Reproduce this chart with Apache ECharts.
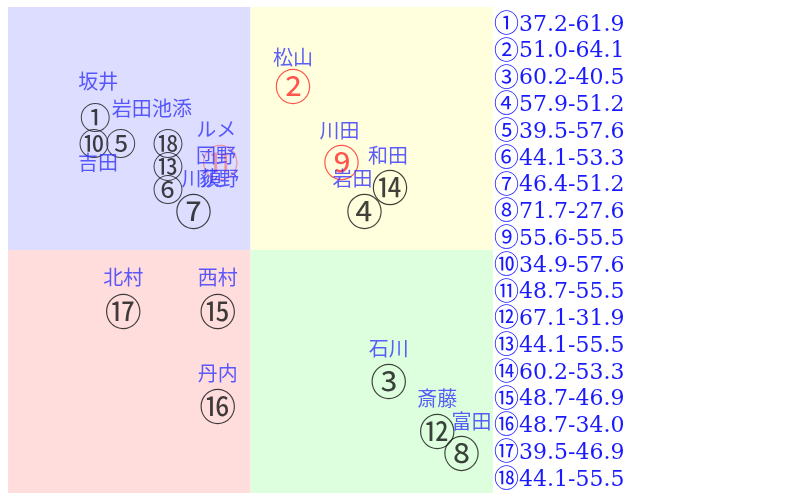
<!DOCTYPE html>
<html>
<head>
<meta charset="utf-8">
<script src="https://cdn.jsdelivr.net/npm/echarts@6/dist/echarts.min.js"></script>
<style>
  html, body { margin: 0; padding: 0; background: #fff; }
  #chart { width: 810px; height: 493px; }
</style>
</head>
<body>
<div id="chart"></div>
<script>
// 番号と名前
const marks = ['①', '②', '③', '④', '⑤', '⑥', '⑦', '⑧', '⑨', '⑩', '⑪', '⑫', '⑬', '⑭', '⑮', '⑯', '⑰', '⑱']
const names = ['坂井', '松山', '石川', '岩田', '岩田', '荻野', '川須', '富田', '川田', '吉田', 'ルメ', '斎藤', '団野', '和田', '西村', '丹内', '北村', '池添']
// 右の一覧の値
const scoreA = [37.2, 51.0, 60.2, 57.9, 39.5, 44.1, 46.4, 71.7, 55.6, 34.9, 48.7, 67.1, 44.1, 60.2, 48.7, 48.7, 39.5, 44.1]
const scoreB = [61.9, 64.1, 40.5, 51.2, 57.6, 53.3, 51.2, 27.6, 55.5, 57.6, 55.5, 31.9, 55.5, 53.3, 46.9, 34.0, 46.9, 55.5]
// 図の上の位置 (20x20 のマス目, y は上から)
const posX = [3.6, 11.75, 15.7, 14.7, 4.65, 6.6, 7.65, 18.7, 13.75, 3.55, 8.75, 17.7, 6.6, 15.75, 8.65, 8.65, 4.75, 6.6]
const posY = [4.55, 3.3, 15.45, 8.45, 5.6, 7.5, 8.45, 18.4, 6.4, 5.6, 6.4, 17.5, 6.55, 7.45, 12.55, 16.45, 12.55, 5.6]

// 見た目の設定 (データとは別)
const smallMarks = [0, 4, 5, 9, 12, 17]
const redMarks = { 1: '#ff2a2a', 8: '#ff2a2a', 10: 'rgba(255,70,70,0.6)' }
const nameShift = {
  0: [3, -36], 1: [0, -30], 2: [0, -34], 3: [-12, -34], 4: [11, -35], 5: [51, -11],
  6: [8, -34], 7: [10, -33], 8: [-2, -32], 9: [4, 19], 10: [-4, -33], 11: [0, -34],
  12: [48, -11], 13: [-2, -33], 14: [0, -35], 15: [0, -33], 16: [0, -35], 17: [4, -35]
}

const chart = echarts.init(document.getElementById('chart'))

const quad = [
  [[0, 0], [10, 10], '#ddddff'],
  [[10, 0], [20, 10], '#ffffdd'],
  [[0, 10], [10, 20], '#ffdddd'],
  [[10, 10], [20, 20], '#ddffdd'],
]

const option = {
  animation: false,
  grid: { left: 8, top: 7, width: 485, height: 486 },
  xAxis: { type: 'value', min: 0, max: 20, show: false },
  yAxis: { type: 'value', min: 0, max: 20, inverse: true, show: false },
  series: [
    {
      // 番号
      type: 'scatter',
      symbolSize: 1,
      itemStyle: { color: 'rgba(0,0,0,0)' },
      markArea: {
        silent: true,
        data: quad.map(q => [
          { coord: q[0], itemStyle: { color: q[2] } },
          { coord: q[1] },
        ]),
      },
      z: 2,
      data: posX.map((x, i) => ({
        value: [x, posY[i]],
        label: {
          show: true,
          position: 'inside',
          formatter: marks[i],
          color: redMarks[i] || '#111',
          fontSize: smallMarks.includes(i) ? 31 : 37,
          fontFamily: 'Noto Sans CJK JP',
        },
      })),
    },
    {
      // 名前
      type: 'scatter',
      symbolSize: 1,
      itemStyle: { color: 'rgba(0,0,0,0)' },
      z: 3,
      data: posX.map((x, i) => ({
        value: [x, posY[i]],
        label: {
          show: true,
          position: 'inside',
          offset: nameShift[i],
          formatter: names[i],
          color: '#3535ff',
          fontSize: 20,
          fontFamily: 'Noto Sans CJK JP',
        },
      })),
    },
  ],
  graphic: marks.map((m, i) => ({
    type: 'text',
    x: 494,
    y: 25 + i * 26.76,
    style: {
      text: '{c|' + m + '}{n|' + scoreA[i].toFixed(1) + '-' + scoreB[i].toFixed(1) + '}',
      rich: {
        c: { fill: '#1a1aff', font: '25px "Noto Sans CJK JP"', padding: [0, 0, 5, 0] },
        n: { fill: '#1a1aff', font: '22px "DejaVu Serif"' },
      },
      verticalAlign: 'middle',
      align: 'left',
    },
  })),
}

chart.setOption(option)
</script>
</body>
</html>
